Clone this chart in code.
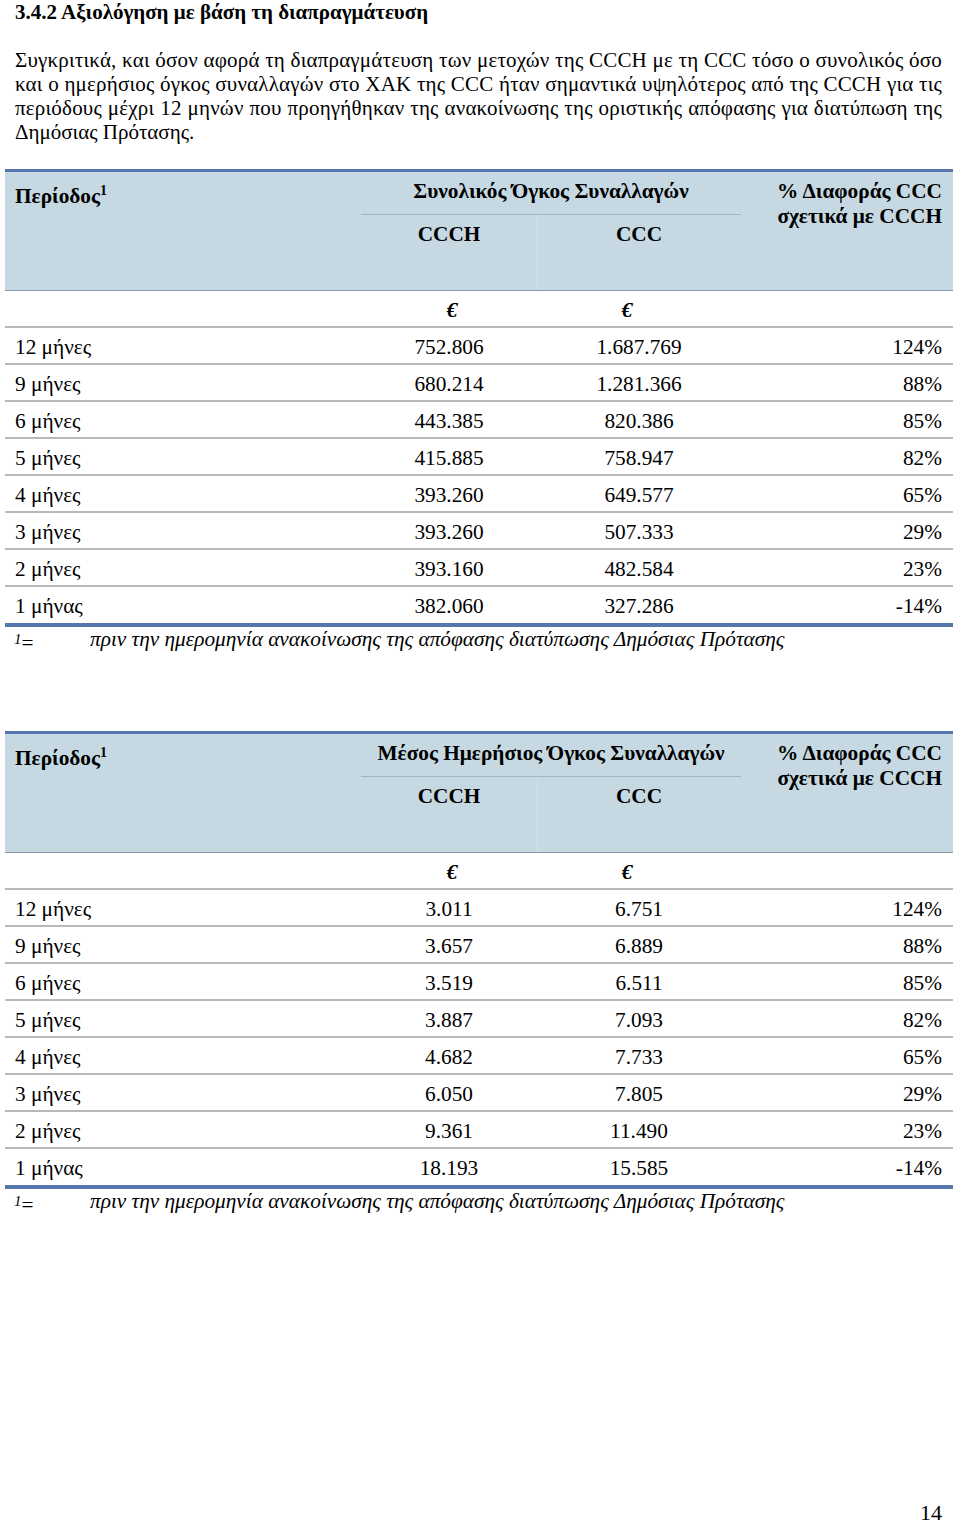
import React from 'react';

// Page holds two tables of trading volume, data kept in small arrays
const periods = ['12 μήνες', '9 μήνες', '6 μήνες', '5 μήνες', '4 μήνες', '3 μήνες', '2 μήνες', '1 μήνας'];
const totalCCCH = ['752.806', '680.214', '443.385', '415.885', '393.260', '393.260', '393.160', '382.060'];
const totalCCC = ['1.687.769', '1.281.366', '820.386', '758.947', '649.577', '507.333', '482.584', '327.286'];
const totalPct = ['124%', '88%', '85%', '82%', '65%', '29%', '23%', '-14%'];
const dailyCCCH = ['3.011', '3.657', '3.519', '3.887', '4.682', '6.050', '9.361', '18.193'];
const dailyCCC = ['6.751', '6.889', '6.511', '7.093', '7.733', '7.805', '11.490', '15.585'];
const dailyPct = ['124%', '88%', '85%', '82%', '65%', '29%', '23%', '-14%'];

const paragraph = [
    'Συγκριτικά, και όσον αφορά τη διαπραγμάτευση των μετοχών της CCCH με τη CCC τόσο ο συνολικός όσο',
    'και ο ημερήσιος όγκος συναλλαγών στο ΧΑΚ της CCC ήταν σημαντικά υψηλότερος από της CCCH για τις',
    'περιόδους μέχρι 12 μηνών που προηγήθηκαν της ανακοίνωσης της οριστικής απόφασης για διατύπωση της',
    'Δημόσιας Πρότασης.',
];
const footnote = 'πριν την ημερομηνία ανακοίνωσης της απόφασης διατύπωσης Δημόσιας Πρότασης';

const SERIF = '"Liberation Serif", "DejaVu Serif", serif';
const BLUE = '#5677ae';
const HEAD_BG = '#c6d9e3';
const RULE = '#b8b8b8';
const FS = 21.3;

// text line placed by its vertical centre
function Line({ y, x, w, align = 'left', bold, italic, size = FS, children, style }: any) {
    return (
        <div
            style={{
                position: 'absolute',
                left: x,
                width: w,
                top: y - 12,
                height: 24,
                lineHeight: '24px',
                fontSize: size,
                fontWeight: bold ? 'bold' : 'normal',
                fontStyle: italic ? 'italic' : 'normal',
                textAlign: align,
                whiteSpace: 'nowrap',
                ...style,
            }}
        >
            {children}
        </div>
    );
}

function VolumeTable({ top, title, ccch, ccc, pct }: any) {
    const rowTop = top + 158; // first data row top
    return (
        <>
            <div style={{ position: 'absolute', left: 5, width: 948, top, height: 3, background: BLUE }} />
            <div style={{ position: 'absolute', left: 5, width: 948, top: top + 3, height: 118, background: HEAD_BG }} />
            <div style={{ position: 'absolute', left: 361, width: 380, top: top + 45, height: 1, background: '#9fb4c6' }} />
            <div style={{ position: 'absolute', left: 537, width: 1, top: top + 46, height: 75, background: '#d3e2ea' }} />
            <div style={{ position: 'absolute', left: 5, width: 948, top: top + 121, height: 1, background: '#8a9aa8' }} />

            <Line y={top + 22} x={15} w={200} bold>
                Περίοδος<sup style={{ fontSize: 14, verticalAlign: '8px' }}>1</sup>
            </Line>
            <Line y={top + 22} x={361} w={380} align="center" bold>{title}</Line>
            <Line y={top + 65} x={361} w={176} align="center" bold>CCCH</Line>
            <Line y={top + 65} x={537} w={204} align="center" bold>CCC</Line>
            <Line y={top + 22} x={741} w={201} align="right" bold>% Διαφοράς CCC</Line>
            <Line y={top + 47} x={741} w={201} align="right" bold>σχετικά με CCCH</Line>

            <Line y={top + 141} x={440} w={24} align="center" bold italic>€</Line>
            <Line y={top + 141} x={615} w={24} align="center" bold italic>€</Line>
            <div style={{ position: 'absolute', left: 5, width: 948, top: top + 157, height: 2, background: RULE }} />

            {periods.map((p, i) => {
                const t = rowTop + i * 37;
                return (
                    <React.Fragment key={p}>
                        <Line y={t + 20} x={15} w={200}>{p}</Line>
                        <Line y={t + 20} x={361} w={176} align="center">{ccch[i]}</Line>
                        <Line y={t + 20} x={537} w={204} align="center">{ccc[i]}</Line>
                        <Line y={t + 20} x={741} w={201} align="right">{pct[i]}</Line>
                        {i < periods.length - 1 ? (
                            <div style={{ position: 'absolute', left: 5, width: 948, top: t + 36, height: 2, background: RULE }} />
                        ) : (
                            <div style={{ position: 'absolute', left: 5, width: 948, top: t + 37, height: 4, background: BLUE }} />
                        )}
                    </React.Fragment>
                );
            })}

            <Line y={rowTop + 8 * 37 + 16} x={14} w={40} italic>
                <sup style={{ fontSize: 15, verticalAlign: '6px' }}>1</sup>
                <span style={{ fontStyle: 'normal' }}>=</span>
            </Line>
            <Line y={rowTop + 8 * 37 + 16} x={90} w={800} italic>{footnote}</Line>
        </>
    );
}

export default function App() {
    return (
        <div
            style={{
                position: 'absolute',
                left: 0,
                top: 0,
                width: 960,
                height: 1524,
                background: '#fff',
                color: '#000',
                fontFamily: SERIF,
                overflow: 'hidden',
            }}
        >
            <Line y={12} x={15} w={600} bold size={21}>3.4.2 Αξιολόγηση με βάση τη διαπραγμάτευση</Line>

            {paragraph.map((line, i) => (
                <Line
                    key={i}
                    y={60 + i * 24}
                    x={15}
                    w={927}
                    size={21}
                    style={
                        i < paragraph.length - 1
                            ? { textAlign: 'justify', textAlignLast: 'justify', whiteSpace: 'normal', letterSpacing: 0.2 }
                            : {}
                    }
                >
                    {line}
                </Line>
            ))}

            <VolumeTable top={169} title="Συνολικός Όγκος Συναλλαγών" ccch={totalCCCH} ccc={totalCCC} pct={totalPct} />
            <VolumeTable top={731} title="Μέσος Ημερήσιος Όγκος Συναλλαγών" ccch={dailyCCCH} ccc={dailyCCC} pct={dailyPct} />

            <Line y={1513} x={880} w={62} align="right" size={22}>14</Line>
        </div>
    );
}
